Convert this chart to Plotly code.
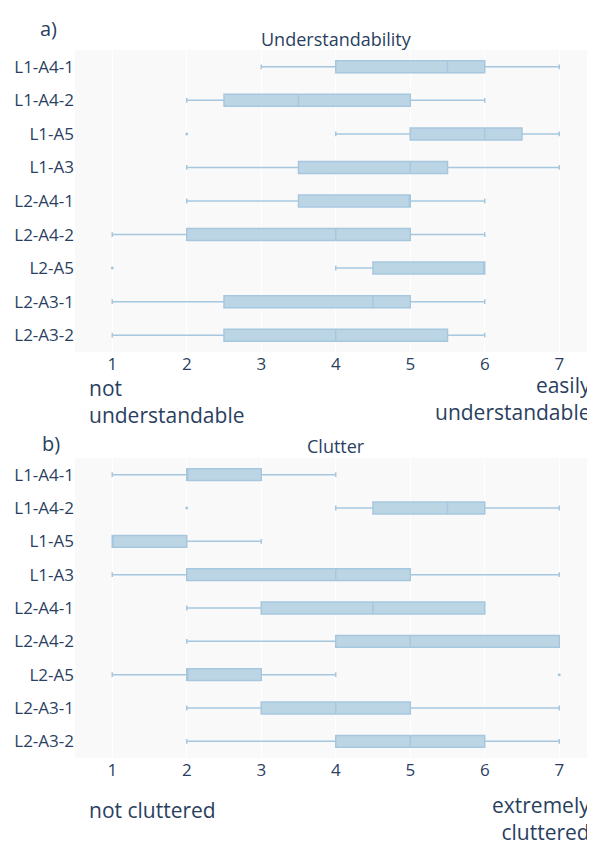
import plotly.graph_objects as go

categories = ["L1-A4-1", "L1-A4-2", "L1-A5", "L1-A3", "L2-A4-1",
              "L2-A4-2", "L2-A5", "L2-A3-1", "L2-A3-2"]

# a) Understandability
und_low = [3, 2, 4, 2, 2, 1, 4, 1, 1]
und_q1 = [4, 2.5, 5, 3.5, 3.5, 2, 4.5, 2.5, 2.5]
und_med = [5.5, 3.5, 6, 5, 5, 4, 6, 4.5, 4]
und_q3 = [6, 5, 6.5, 5.5, 5, 5, 6, 5, 5.5]
und_high = [7, 6, 7, 7, 6, 6, 6, 6, 6]
und_out_cat = ["L1-A5", "L2-A5"]
und_out_val = [2, 1]

# b) Clutter
clu_low = [1, 4, 1, 1, 2, 2, 1, 2, 2]
clu_q1 = [2, 4.5, 1, 2, 3, 4, 2, 3, 4]
clu_med = [2, 5.5, 1, 4, 4.5, 5, 2, 4, 5]
clu_q3 = [3, 6, 2, 5, 6, 7, 3, 5, 6]
clu_high = [4, 7, 3, 7, 6, 7, 4, 7, 7]
clu_out_cat = ["L1-A4-2", "L2-A5"]
clu_out_val = [2, 7]

xticks = [1, 2, 3, 4, 5, 6, 7]

# the page adds an 8px body margin; the figure is laid out to compensate
OFF = 8
W, H = 595 - OFF, 843 - OFF
ML, MR, MT, MB = 75 - OFF, 0, 50 - OFF, 85
PH = H - MT - MB
PW = W - ML - MR


def py(p):
    return (H - MB - (p - OFF)) / PH


def px(p):
    return ((p - OFF) - ML) / PW


FILL = "#bcd5e5"
LINE = "#a6c8df"
TXT = "#2a3f5f"
FONT = "Open Sans"

fig = go.Figure()


def add_box(xa, ya, low, q1, med, q3, high, ocat, oval):
    fig.add_trace(go.Box(
        y=categories, q1=q1, median=med, q3=q3,
        lowerfence=low, upperfence=high,
        orientation="h", fillcolor=FILL,
        line=dict(color=LINE, width=1.5),
        whiskerwidth=0.4, boxpoints=False,
        xaxis=xa, yaxis=ya, showlegend=False, hoverinfo="skip",
    ))
    fig.add_trace(go.Scatter(
        x=oval, y=ocat, mode="markers",
        marker=dict(color=LINE, size=3),
        xaxis=xa, yaxis=ya, showlegend=False, hoverinfo="skip",
    ))


add_box("x", "y", und_low, und_q1, und_med, und_q3, und_high, und_out_cat, und_out_val)
add_box("x2", "y2", clu_low, clu_q1, clu_med, clu_q3, clu_high, clu_out_cat, clu_out_val)

xax = dict(range=[0.5, 7.48], tickvals=xticks, showgrid=True, gridcolor="white",
           gridwidth=1, zeroline=False, showline=False, ticks="",
           tickfont=dict(size=17, color=TXT, family=FONT))
yax = dict(autorange="reversed", showgrid=False, zeroline=False, ticks="",
           tickfont=dict(size=17, color=TXT, family=FONT))

fig.update_layout(
    width=W, height=H,
    margin=dict(l=ML, r=MR, t=MT, b=MB, autoexpand=False),
    paper_bgcolor="white", plot_bgcolor="#f9f9f9",
    boxgap=0.49,
    font=dict(family=FONT, color=TXT),
    xaxis=dict(**xax, anchor="y", domain=[0, 1]),
    yaxis=dict(**yax, anchor="x", domain=[py(352), 1]),
    xaxis2=dict(**xax, anchor="y2", domain=[0, 1]),
    yaxis2=dict(**yax, anchor="x2", domain=[0, py(458)]),
)

ann = [
    dict(text="a)", x=px(48), y=py(28), size=20, xa="center"),
    dict(text="Understandability", x=px(336), y=py(39), size=18, xa="center"),
    dict(text="not<br>understandable", x=px(87), y=py(401), size=21, xa="left"),
    dict(text="easily<br>understandable", x=px(593), y=py(398), size=21, xa="right"),
    dict(text="b)", x=px(51), y=py(443), size=20, xa="center"),
    dict(text="Clutter", x=px(336), y=py(446), size=18, xa="center"),
    dict(text="not cluttered", x=px(87), y=py(810), size=21, xa="left"),
    dict(text="extremely<br>cluttered", x=px(592), y=py(818), size=21, xa="right"),
]
for a in ann:
    fig.add_annotation(text=a["text"], x=a["x"], y=a["y"], xref="paper", yref="paper",
                       xanchor=a["xa"], yanchor="middle", align=a["xa"],
                       showarrow=False, font=dict(size=a["size"], color=TXT, family=FONT))

fig.write_html("out.html")
